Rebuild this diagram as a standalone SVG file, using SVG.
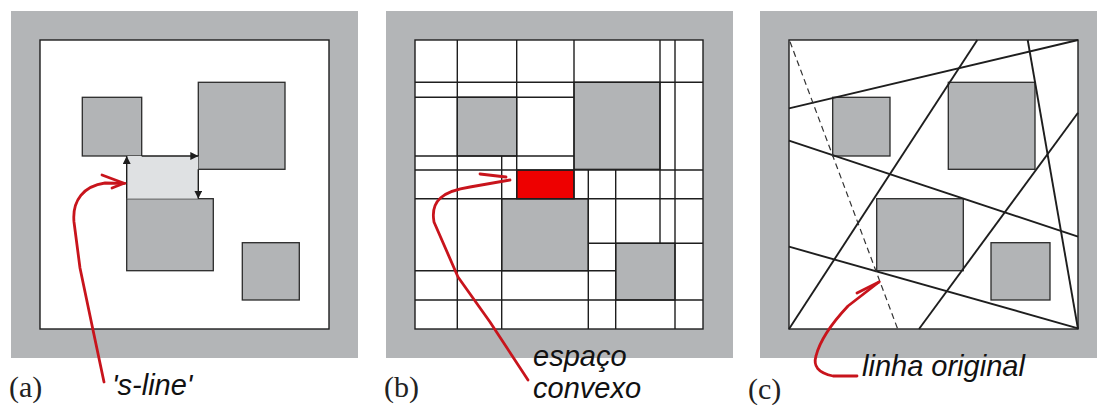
<svg xmlns="http://www.w3.org/2000/svg" width="1097" height="405" viewBox="0 0 1097 405">
<style>
.frame{fill:#b3b5b7}
.inner{fill:#fff;stroke:#1e1e1e;stroke-width:1.4}
.obs{fill:#b2b4b6;stroke:#2a2a2a;stroke-width:1.3}
.ln{stroke:#1e1e1e;stroke-width:1.4;fill:none}
.cut{stroke:#1e1e1e;stroke-width:1.9;fill:none}
.red{stroke:#c8141c;stroke-width:2.8;fill:none;stroke-linecap:round;stroke-linejoin:round}
.lab{font-family:"Liberation Serif",serif;font-size:30px;fill:#222}
.it{font-family:"Liberation Sans",Arial,sans-serif;font-style:italic;font-size:29px;fill:#111}
</style>
<defs>
<marker id="ah" viewBox="0 0 10 10" refX="10" refY="5" markerWidth="8" markerHeight="8" markerUnits="userSpaceOnUse" orient="auto">
<path d="M0,0 L10,5 L0,10 Z" fill="#1e1e1e"/>
</marker>
</defs>
<rect width="1097" height="405" fill="#fff"/>

<!-- Panel (a) -->
<g id="panel-a">
<rect class="frame" x="11" y="11" width="347" height="347"/>
<rect class="inner" x="40" y="40" width="289" height="289"/>
<rect class="obs" x="82.3" y="97.3" width="59.4" height="58.7"/>
<rect class="obs" x="198.3" y="82.3" width="86.7" height="87"/>
<rect class="obs" x="126.7" y="198.7" width="86.6" height="72"/>
<rect class="obs" x="242.3" y="242.7" width="57" height="57.3"/>
<rect x="126.7" y="156" width="71.6" height="42.7" fill="#dfe1e3"/>
<g id="a-connectors">
<line class="ln" x1="126.7" y1="198.7" x2="126.7" y2="156" marker-end="url(#ah)"/>
<line class="ln" x1="141.7" y1="156" x2="198.3" y2="156" marker-end="url(#ah)"/>
<line class="ln" x1="198.3" y1="169.3" x2="198.3" y2="198.7" marker-end="url(#ah)"/>
</g>
<path class="red" d="M104,382 L93,330 L80,268 L74,222 C72,200 84,186 105,183 L125,183.3"/>
<path class="red" d="M102,175 L124,183.3 L112,188"/>
<text class="lab" x="9" y="397">(a)</text>
<text class="it" x="112" y="395">'s-line'</text>
</g>

<!-- Panel (b) -->
<g id="panel-b">
<rect class="frame" x="386" y="11" width="347" height="347"/>
<rect class="inner" x="415" y="40" width="288" height="289"/>
<rect class="obs" x="457.3" y="97.3" width="59.4" height="58.7"/>
<rect class="obs" x="574" y="82.3" width="86" height="87"/>
<rect class="obs" x="501.7" y="198.7" width="86.6" height="72"/>
<rect class="obs" x="615.7" y="243.3" width="59.3" height="56.7"/>
<rect x="516.7" y="170" width="57.3" height="28.7" fill="#ee0000" stroke="#1e1e1e" stroke-width="1.3"/>
<g id="b-grid">
<line class="ln" x1="457.3" y1="40" x2="457.3" y2="329"/>
<line class="ln" x1="516.7" y1="40" x2="516.7" y2="198.7"/>
<line class="ln" x1="574" y1="40" x2="574" y2="198.7"/>
<line class="ln" x1="660" y1="40" x2="660" y2="243.3"/>
<line class="ln" x1="675" y1="40" x2="675" y2="329"/>
<line class="ln" x1="501.7" y1="156" x2="501.7" y2="329"/>
<line class="ln" x1="588.3" y1="170" x2="588.3" y2="329"/>
<line class="ln" x1="615.7" y1="170" x2="615.7" y2="329"/>
<line class="ln" x1="415" y1="82.3" x2="703" y2="82.3"/>
<line class="ln" x1="415" y1="97.3" x2="574" y2="97.3"/>
<line class="ln" x1="415" y1="156" x2="574" y2="156"/>
<line class="ln" x1="415" y1="170" x2="703" y2="170"/>
<line class="ln" x1="415" y1="198.7" x2="703" y2="198.7"/>
<line class="ln" x1="588.3" y1="243.3" x2="703" y2="243.3"/>
<line class="ln" x1="415" y1="270.7" x2="615.7" y2="270.7"/>
<line class="ln" x1="415" y1="300" x2="703" y2="300"/>
</g>
<path class="red" d="M528,380 L490,322 L458,277 L434,222 C430,200 444,191 470,187 L510,180"/>
<path class="red" d="M480,174 L506,177"/>
<text class="lab" x="384" y="397">(b)</text>
<text class="it" x="533" y="366">espaço</text>
<text class="it" x="533" y="398">convexo</text>
</g>

<!-- Panel (c) -->
<g id="panel-c">
<rect class="frame" x="760" y="11" width="337" height="347"/>
<rect class="inner" x="789" y="40" width="289" height="289"/>
<rect class="obs" x="832.7" y="97.3" width="57.3" height="58.7"/>
<rect class="obs" x="948.3" y="82.3" width="86.7" height="87"/>
<rect class="obs" x="876.7" y="198.7" width="86.6" height="72"/>
<rect class="obs" x="991" y="242.7" width="59" height="57.3"/>
<g id="c-lines">
<line class="cut" x1="789" y1="108.3" x2="1078" y2="40"/>
<line class="cut" x1="789" y1="140.7" x2="1078" y2="236.7"/>
<line class="cut" x1="789" y1="246.7" x2="1078" y2="328.3"/>
<line class="cut" x1="789" y1="329" x2="977.3" y2="40"/>
<line class="cut" x1="919" y1="329" x2="1078" y2="112.7"/>
<line class="cut" x1="1027.7" y1="40" x2="1078" y2="329"/>
<line x1="790" y1="41.7" x2="897.7" y2="329" stroke="#333" stroke-width="1.2" stroke-dasharray="6,4"/>
</g>
<path class="red" d="M857,376 L833,376 C818,373 813,366 816,356 C820,340 833,322 848,306 L879,282"/>
<path class="red" d="M857,293 L879,282"/>
<text class="lab" x="748" y="399">(c)</text>
<text class="it" x="862" y="376">linha original</text>
</g>
</svg>
